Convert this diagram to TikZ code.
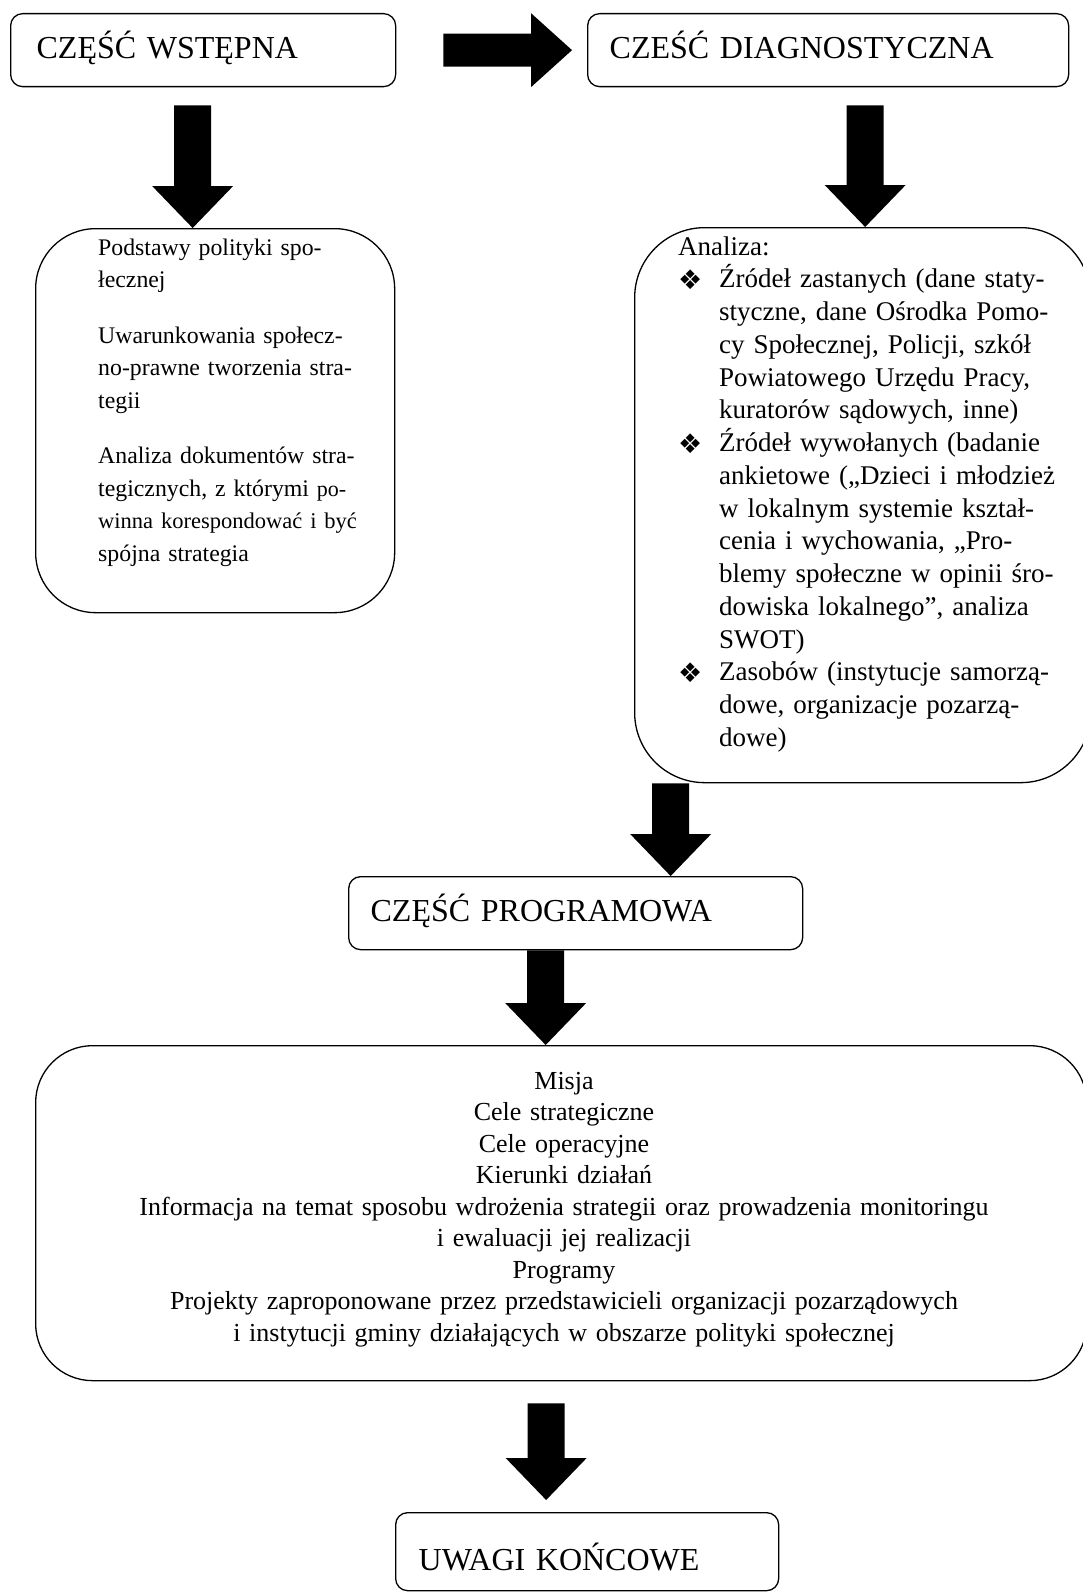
\documentclass[tikz,border=0pt]{standalone}
\usepackage{fontspec}
\setmainfont{Liberation Serif}
\newfontfamily\symfont{DejaVu Sans}
\usetikzlibrary{calc}
\newcommand{\dmbul}{\makebox[41pt][l]{\raisebox{-2pt}{\symfont\fontsize{27}{27}\selectfont ❖}}}
\newcommand{\dmind}{\hspace*{41pt}}
\newcommand{\dnarrow}[2]{\fill ($(#1)+(-18.5,0)$) -- ($(#2)+(-18.5,-42)$) -- ($(#2)+(-40.5,-42)$) -- (#2) -- ($(#2)+(40.5,-42)$) -- ($(#2)+(18.5,-42)$) -- ($(#1)+(18.5,0)$) -- cycle;}
\begin{document}
\begin{tikzpicture}[x=1pt,y=-1pt,
  boxbase/.style={draw, line width=1.3pt, anchor=north west, inner ysep=0pt},
  titlebox/.style={boxbase, rounded corners=12pt, font=\fontsize{32}{38}\selectfont, align=left, minimum height=73, text height=24, text depth=7},
  bigbox/.style={boxbase, inner sep=0pt},
  bodytext/.style={inner sep=0pt, align=left}
]
\useasboundingbox (0,0) rectangle (1082,1592);
\fill[white] (0,0) rectangle (1082,1592);

% title boxes
\node[titlebox, inner xsep=26pt, text width=333] (b1) at (10,13) {CZĘŚĆ WSTĘPNA};
\node[titlebox, inner xsep=22pt, text width=437] (b2) at (587,13) {CZEŚĆ DIAGNOSTYCZNA};
\node[titlebox, inner xsep=22pt, text width=410] (b5) at (348,876) {CZĘŚĆ PROGRAMOWA};
\node[titlebox, inner xsep=23pt, text width=337, minimum height=78, text height=38, text depth=0] (b7) at (395,1512) {UWAGI KOŃCOWE};

% big boxes
\node[bigbox, rounded corners=60pt, minimum width=359, minimum height=384] (b3) at (35,228) {};
\node[bigbox, rounded corners=70pt, minimum width=456, minimum height=555] (b4) at (634,227) {};
\node[bigbox, rounded corners=57pt, minimum width=1051, minimum height=335] (b6) at (35,1045) {};

% texts of big boxes
\node[bodytext, anchor=base west, text width=330, font=\fontsize{23.8}{32.5}\selectfont] (t3) at (98,255) {Podstawy polityki spo-\\
łecznej\\[23pt]
Uwarunkowania społecz-\\
no-prawne tworzenia stra-\\
tegii\\[23pt]
Analiza dokumentów stra-\\
tegicznych, z którymi {\fontsize{22}{32.5}\selectfont po-}\\
{\fontsize{22.5}{32.5}\selectfont winna korespondować i być}\\
spójna strategia};

\node[bodytext, anchor=base west, text width=400, font=\fontsize{27}{32.75}\selectfont] (t4) at (678,255) {Analiza:\\
\dmbul Źródeł zastanych (dane staty-\\
\dmind styczne, dane Ośrodka Pomo-\\
\dmind cy Społecznej, Policji, szkół\\
\dmind Powiatowego Urzędu Pracy,\\
\dmind kuratorów sądowych, inne)\\
\dmbul Źródeł wywołanych (badanie\\
\dmind ankietowe („Dzieci i młodzież\\
\dmind w lokalnym systemie kształ-\\
\dmind cenia i wychowania, „Pro-\\
\dmind blemy społeczne w opinii śro-\\
\dmind dowiska lokalnego”, analiza\\
\dmind SWOT)\\
\dmbul Zasobów (instytucje samorzą-\\
\dmind dowe, organizacje pozarzą-\\
\dmind dowe)};

\node[bodytext, align=center, anchor=base, text width=1000, font=\fontsize{26}{31.5}\selectfont] (t6) at (564,1089) {Misja\\
Cele strategiczne\\
Cele operacyjne\\
Kierunki działań\\
Informacja na temat sposobu wdrożenia strategii oraz prowadzenia monitoringu\\
i ewaluacji jej realizacji\\
Programy\\
Projekty zaproponowane przez przedstawicieli organizacji pozarządowych\\
i instytucji gminy działających w obszarze polityki społecznej};

% arrows
\coordinate (a1s) at ($(b1.east)+(47,0)$);
\coordinate (a1e) at ($(b2.west)+(-15,0)$);
\fill ($(a1s)+(0,-16.5)$) -- ($(a1e)+(-41,-16.5)$) -- ($(a1e)+(-41,-37)$) -- (a1e) -- ($(a1e)+(-41,37)$) -- ($(a1e)+(-41,16.5)$) -- ($(a1s)+(0,16.5)$) -- cycle;

\coordinate (a2s) at ($(b1.south)+(-10.5,18)$);
\coordinate (a2e) at (a2s |- b3.north);
\dnarrow{a2s}{a2e}

\coordinate (a3s) at ($(b2.south)+(37,18)$);
\coordinate (a3e) at (a3s |- b4.north);
\dnarrow{a3s}{a3e}

\coordinate (a4s) at ($(b4.south)+(-192,0)$);
\coordinate (a4e) at (a4s |- b5.north);
\dnarrow{a4s}{a4e}

\coordinate (a5s) at ($(b5.south)+(-30,0)$);
\coordinate (a5e) at (a5s |- b6.north);
\dnarrow{a5s}{a5e}

\coordinate (a6s) at ($(b6.south)+(-15,22)$);
\coordinate (a6e) at ($(a6s |- b7.north)+(0,-12)$);
\dnarrow{a6s}{a6e}
\end{tikzpicture}
\end{document}
